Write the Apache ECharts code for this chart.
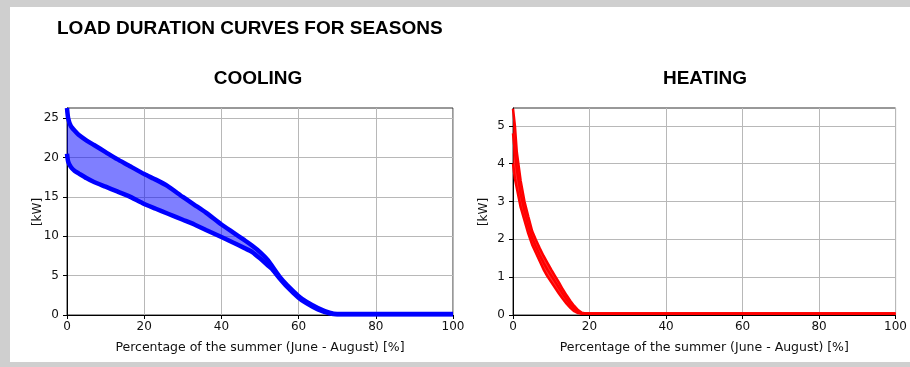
<!DOCTYPE html>
<html><head><meta charset="utf-8">
<script src="https://cdn.jsdelivr.net/npm/echarts@6/dist/echarts.min.js"></script>
<style>html,body{margin:0;padding:0;background:#fff}#c{width:910px;height:367px}</style>
</head><body><div id="c"></div>
<script>
const mainTitle = 'LOAD DURATION CURVES FOR SEASONS';
const panelTitles = ['COOLING', 'HEATING'];
const xName = 'Percentage of the summer (June - August) [%]';
const yName = '[kW]';
const xTicks = [0, 20, 40, 60, 80, 100];
const coolYTicks = [0, 5, 10, 15, 20, 25];
const heatYTicks = [0, 1, 2, 3, 4, 5];

const coolX     = [0, 0.3, 1, 2, 3, 5, 7, 10, 13, 16, 20, 23, 26, 30, 33, 36, 40, 43, 46, 48, 50, 52, 53, 55, 57, 60, 62, 65, 68, 70, 72, 100];
const coolUpper = [26.3, 25.0, 24.0, 23.4, 22.9, 22.2, 21.6, 20.7, 19.8, 19.0, 17.9, 17.2, 16.4, 15.0, 14.0, 13.0, 11.5, 10.5, 9.5, 8.8, 8.0, 7.0, 6.3, 4.9, 3.8, 2.4, 1.7, 0.9, 0.3, 0.12, 0.12, 0.12];
const coolLower = [20.5, 19.5, 18.8, 18.3, 18.0, 17.4, 16.9, 16.3, 15.7, 15.1, 14.1, 13.5, 12.9, 12.1, 11.5, 10.8, 9.9, 9.2, 8.5, 8.0, 7.2, 6.3, 5.9, 4.7, 3.6, 2.2, 1.5, 0.7, 0.2, 0.08, 0.08, 0.08];

const heatX     = [0, 0.5, 1, 2, 3, 4, 5, 6, 7, 8, 9, 10, 11, 12, 13, 14, 15, 16, 17, 18, 19, 100];
const heatUpper = [5.45, 5.0, 4.3, 3.55, 3.0, 2.6, 2.22, 1.98, 1.76, 1.56, 1.38, 1.2, 1.03, 0.86, 0.68, 0.52, 0.37, 0.24, 0.13, 0.06, 0.04, 0.04];
const heatMid   = [4.8, 4.3, 3.85, 3.2, 2.75, 2.36, 2.04, 1.8, 1.58, 1.38, 1.2, 1.04, 0.88, 0.72, 0.56, 0.41, 0.28, 0.17, 0.08, 0.04, 0.04, 0.04];
const heatLower = [4.0, 3.6, 3.35, 2.85, 2.5, 2.15, 1.86, 1.64, 1.42, 1.2, 1.02, 0.87, 0.72, 0.57, 0.43, 0.3, 0.19, 0.1, 0.05, 0.03, 0.03, 0.03];

const FONT = 'DejaVu Sans';
const pairs = (xs, ys) => xs.map((x, i) => [x, ys[i]]);

function bandSeries(xi, xs, hi, lo, color) {
  return {
    type: 'custom', xAxisIndex: xi, yAxisIndex: xi, silent: true, z: 1,
    data: xs.map((x, i) => [x, hi[i], lo[i]]),
    encode: { x: 0, y: [1, 2] },
    clip: true,
    renderItem: function (params, api) {
      if (params.dataIndex !== 0) return null;
      const top = xs.map((x, i) => api.coord([x, hi[i]]));
      const bot = xs.map((x, i) => api.coord([x, lo[i]])).reverse();
      return { type: 'polygon', shape: { points: top.concat(bot) }, style: { fill: color, stroke: null } };
    }
  };
}

function xAxisDef(gi) {
  return {
    type: 'value', gridIndex: gi, min: 0, max: 100, interval: 20,
    name: xName, nameLocation: 'middle', nameGap: 26,
    nameTextStyle: { fontFamily: FONT, fontSize: 12.5, color: '#111' },
    axisLine: { show: true, onZero: false, lineStyle: { color: '#000', width: 1 } },
    axisTick: { show: true, length: 4, lineStyle: { color: '#000' }, customValues: xTicks },
    axisLabel: { fontFamily: FONT, fontSize: 12, color: '#111', margin: 6, customValues: xTicks },
    splitLine: { show: true, lineStyle: { color: '#b8b8b8', width: 1 } }
  };
}
function yAxisDef(gi, max, interval, ticks) {
  return {
    type: 'value', gridIndex: gi, min: 0, max: max, interval: interval,
    axisLine: { show: true, onZero: false, lineStyle: { color: '#000', width: 1 } },
    axisTick: { show: true, length: 4, lineStyle: { color: '#000' }, customValues: ticks },
    axisLabel: { fontFamily: FONT, fontSize: 12, color: '#111', margin: 8, customValues: ticks },
    splitLine: { show: true, lineStyle: { color: '#b8b8b8', width: 1 } }
  };
}
function yNameText(x) {
  return { type: 'text', x: x, y: 212, rotation: Math.PI / 2,
    style: { text: yName, font: '12px "DejaVu Sans"', fill: '#111', textAlign: 'center', textVerticalAlign: 'middle' } };
}

const chart = echarts.init(document.getElementById('c'), null, { renderer: 'canvas' });
chart.setOption({
  backgroundColor: '#cfcfcf',
  animation: false,
  graphic: [
    { type: 'rect', z: -10, shape: { x: 10, y: 7, width: 900, height: 355 }, style: { fill: '#ffffff' } },
    { type: 'text', style: { text: mainTitle, x: 57, y: 29, font: 'bold 19px "Liberation Sans"', fill: '#000', textVerticalAlign: 'middle' } },
    { type: 'text', style: { text: panelTitles[0], x: 258, y: 79, font: 'bold 19px "Liberation Sans"', fill: '#000', textAlign: 'center', textVerticalAlign: 'middle' } },
    { type: 'text', style: { text: panelTitles[1], x: 705, y: 79, font: 'bold 19px "Liberation Sans"', fill: '#000', textAlign: 'center', textVerticalAlign: 'middle' } },
    yNameText(38),
    yNameText(484)
  ],
  grid: [
    { left: 67, top: 108, width: 386, height: 207, show: true, backgroundColor: '#fff', borderColor: '#333', borderWidth: 1 },
    { left: 513, top: 108, width: 385, height: 207, show: true, backgroundColor: '#fff', borderColor: '#333', borderWidth: 1 }
  ],
  xAxis: [xAxisDef(0), xAxisDef(1)],
  yAxis: [yAxisDef(0, 26.3, 5, coolYTicks), yAxisDef(1, 5.47, 1, heatYTicks)],
  series: [
    bandSeries(0, coolX, coolUpper, coolLower, 'rgba(0,0,255,0.5)'),
    { type: 'line', xAxisIndex: 0, yAxisIndex: 0, data: pairs(coolX, coolUpper), symbol: 'none', smooth: 0.2, lineStyle: { color: '#0000ff', width: 4.5 }, z: 3 },
    { type: 'line', xAxisIndex: 0, yAxisIndex: 0, data: pairs(coolX, coolLower), symbol: 'none', smooth: 0.2, lineStyle: { color: '#0000ff', width: 4.5 }, z: 3 },
    bandSeries(1, heatX, heatUpper, heatLower, 'rgba(255,0,0,0.8)'),
    { type: 'line', xAxisIndex: 1, yAxisIndex: 1, data: pairs(heatX, heatUpper), symbol: 'none', lineStyle: { color: '#ff0000', width: 2.5 }, z: 3 },
    { type: 'line', xAxisIndex: 1, yAxisIndex: 1, data: pairs(heatX, heatMid), symbol: 'none', lineStyle: { color: '#ff0000', width: 2.5 }, z: 3 },
    { type: 'line', xAxisIndex: 1, yAxisIndex: 1, data: pairs(heatX, heatLower), symbol: 'none', lineStyle: { color: '#ff0000', width: 2.5 }, z: 3 }
  ]
});
</script></body></html>
